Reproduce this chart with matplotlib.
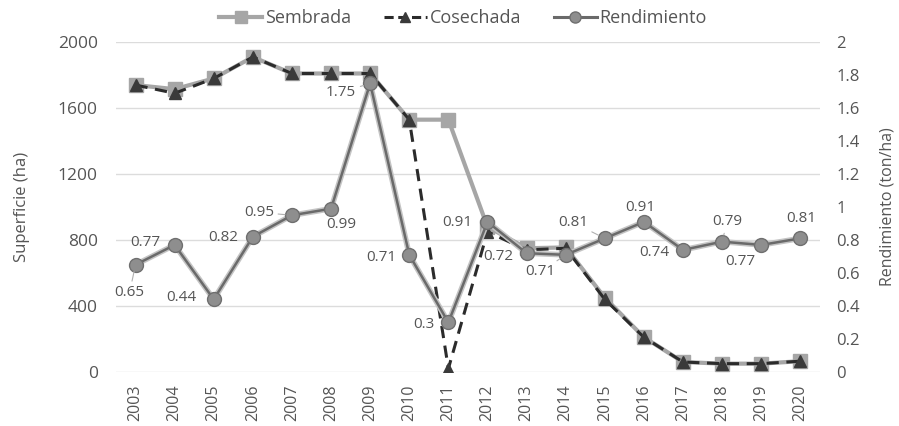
import matplotlib
matplotlib.use("Agg")
import matplotlib.pyplot as plt
from matplotlib.lines import Line2D
import numpy as np

years = ["2003", "2004", "2005", "2006", "2007", "2008", "2009", "2010", "2011",
         "2012", "2013", "2014", "2015", "2016", "2017", "2018", "2019", "2020"]
sembrada = [1740, 1715, 1780, 1910, 1810, 1810, 1810, 1530, 1530,
            880, 750, 755, 450, 210, 60, 50, 50, 65]
cosechada = [1740, 1690, 1780, 1910, 1810, 1810, 1810, 1530, 20,
             850, 740, 750, 440, 210, 60, 50, 50, 65]
rendimiento = [0.65, 0.77, 0.44, 0.82, 0.95, 0.99, 1.75, 0.71, 0.30,
               0.91, 0.72, 0.71, 0.81, 0.91, 0.74, 0.79, 0.77, 0.81]
left_ticks = [0, 400, 800, 1200, 1600, 2000]
right_ticks = [0, 0.2, 0.4, 0.6, 0.8, 1, 1.2, 1.4, 1.6, 1.8, 2]
right_labels = ["0", "0.2", "0.4", "0.6", "0.8", "1", "1.2", "1.4", "1.6", "1.8", "2"]

# label offsets in pixels (dx, dy-down), leader line flag
label_off = [(-6, 28, True), (-29, -2, False), (-32, -2, False), (-30, 1, False),
             (-33, -3, True), (10, 16, False), (-29, 9, True), (-28, 3, False),
             (-25, 2, False), (-30, 1, False), (-28, 3, False), (-25, 17, True),
             (-32, -16, True), (-4, -14, False), (-29, 3, False), (5, -20, True),
             (-21, 17, False), (1, -20, False)]

plt.rcParams['font.family'] = ['Open Sans', 'DejaVu Sans']
txt = '#555555'

fig = plt.figure(figsize=(8.99, 4.26), dpi=100)
ax = fig.add_axes([0.129, 0.127, 0.783, 0.774])
x = np.arange(len(years))

ax.plot(x, sembrada, color='#a6a6a6', lw=3, marker='s', ms=10,
        mfc='#a6a6a6', mec='#a6a6a6', zorder=2)
ax.plot(x, cosechada, color='#2b2b2b', lw=2.2, ls=(0, (4, 2.5)), marker='^', ms=8,
        mfc='#3a3a3a', mec='#3a3a3a', zorder=3)
ax.set_xlim(-0.5, len(years) - 0.5)
ax.set_ylim(0, 2000)
ax.set_yticks(left_ticks)
ax.set_yticklabels([str(t) for t in left_ticks])
ax.set_xticks(x)
ax.set_xticklabels(years, rotation=90)
ax.grid(axis='y', color='#dcdcdc', lw=1)
ax.set_axisbelow(True)
for s in ax.spines.values():
    s.set_visible(False)
ax.tick_params(length=0, colors=txt)
ax.tick_params(axis='x', labelsize=11.5, pad=9)
ax.tick_params(axis='y', labelsize=12.5, pad=13)
ax.set_ylabel("Superficie (ha)", color=txt, fontsize=12, labelpad=20)

ax2 = ax.twinx()
ax2.set_ylim(0, 2)
ax2.set_yticks(right_ticks)
ax2.set_yticklabels(right_labels)
for s in ax2.spines.values():
    s.set_visible(False)
ax2.tick_params(length=0, colors=txt, labelsize=12, pad=12)
ax2.set_ylabel("Rendimiento (ton/ha)", color=txt, fontsize=11.5, labelpad=14)
ax2.plot(x, rendimiento, color='#c4c4c4', lw=4, zorder=3)
ax2.plot(x, rendimiento, color='#6a6a6a', lw=1.8, marker='o', ms=10,
         mfc='#8e8e8e', mec='#6f6f6f', mew=1, zorder=4)

for i, v in enumerate(rendimiento):
    dx, dy, lead = label_off[i]
    kw = {}
    if lead:
        kw['arrowprops'] = dict(arrowstyle='-', color='#b0b0b0', lw=0.8,
                                shrinkA=1, shrinkB=5)
    ax2.annotate(f"{v:g}", (x[i], v), xytext=(dx * 0.72, -dy * 0.72),
                 textcoords='offset points', ha='center', va='center',
                 fontsize=11, color=txt, zorder=6, **kw)

handles = [
    Line2D([], [], color='#a6a6a6', lw=3, marker='s', ms=9, mfc='#a6a6a6', mec='#a6a6a6'),
    Line2D([], [], color='#2b2b2b', lw=2.2, ls=(0, (3, 1.5)), marker='^', ms=7, mfc='#3a3a3a', mec='#3a3a3a'),
    Line2D([], [], color='#6a6a6a', lw=2.2, marker='o', ms=8, mfc='#8e8e8e', mec='#6f6f6f'),
]
fig.legend(handles, ["Sembrada", "Cosechada", "Rendimiento"], loc='center',
           bbox_to_anchor=(0.515, 0.958), ncol=3, frameon=False, fontsize=13,
           labelcolor=txt, handlelength=2.4, handletextpad=0.15, columnspacing=1.8)

fig.savefig("out.png", dpi=100)
